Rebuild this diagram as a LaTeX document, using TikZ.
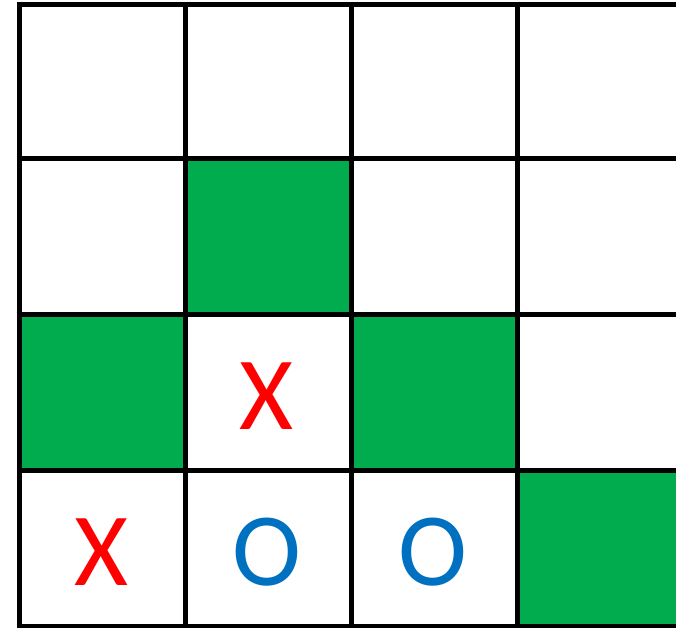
\documentclass[tikz,border=0pt]{standalone}
\usepackage{fontspec}
\setmainfont{Carlito}
\definecolor{cellgreen}{HTML}{00AC4E}
\definecolor{mkred}{HTML}{FF0000}
\definecolor{mkblue}{HTML}{0070C0}
\begin{document}
\begin{tikzpicture}[x=1pt,y=-1pt,
  gridline/.style={line width=5pt,black},
  greencell/.style={fill=cellgreen},
  markglyph/.style={font=\fontsize{104}{104}\selectfont,inner sep=0pt,anchor=center}]
\useasboundingbox (0,0) rectangle (676,627);
\clip (0,0) rectangle (676,627);
\fill[white] (0,0) rectangle (676,627);
% green cells
\fill[greencell] (185,158) rectangle (351,314);
\fill[greencell] (19,314) rectangle (185,470);
\fill[greencell] (351,314) rectangle (517,470);
\fill[greencell] (517,470) rectangle (690,626);
% grid lines
\foreach \x in {19,185,351,517} \draw[gridline] (\x,1.5) -- (\x,640);
\foreach \y in {4,158,314,470,626} \draw[gridline] (16.5,\y) -- (700,\y);
% marks
\node[markglyph,text=mkred] (x1) at (266,396) {X};
\node[markglyph,text=mkred] (x2) at (101,552) {X};
\node[markglyph,text=mkblue] (o1) at (267,552) {O};
\node[markglyph,text=mkblue] (o2) at (433,552) {O};
\end{tikzpicture}
\end{document}
